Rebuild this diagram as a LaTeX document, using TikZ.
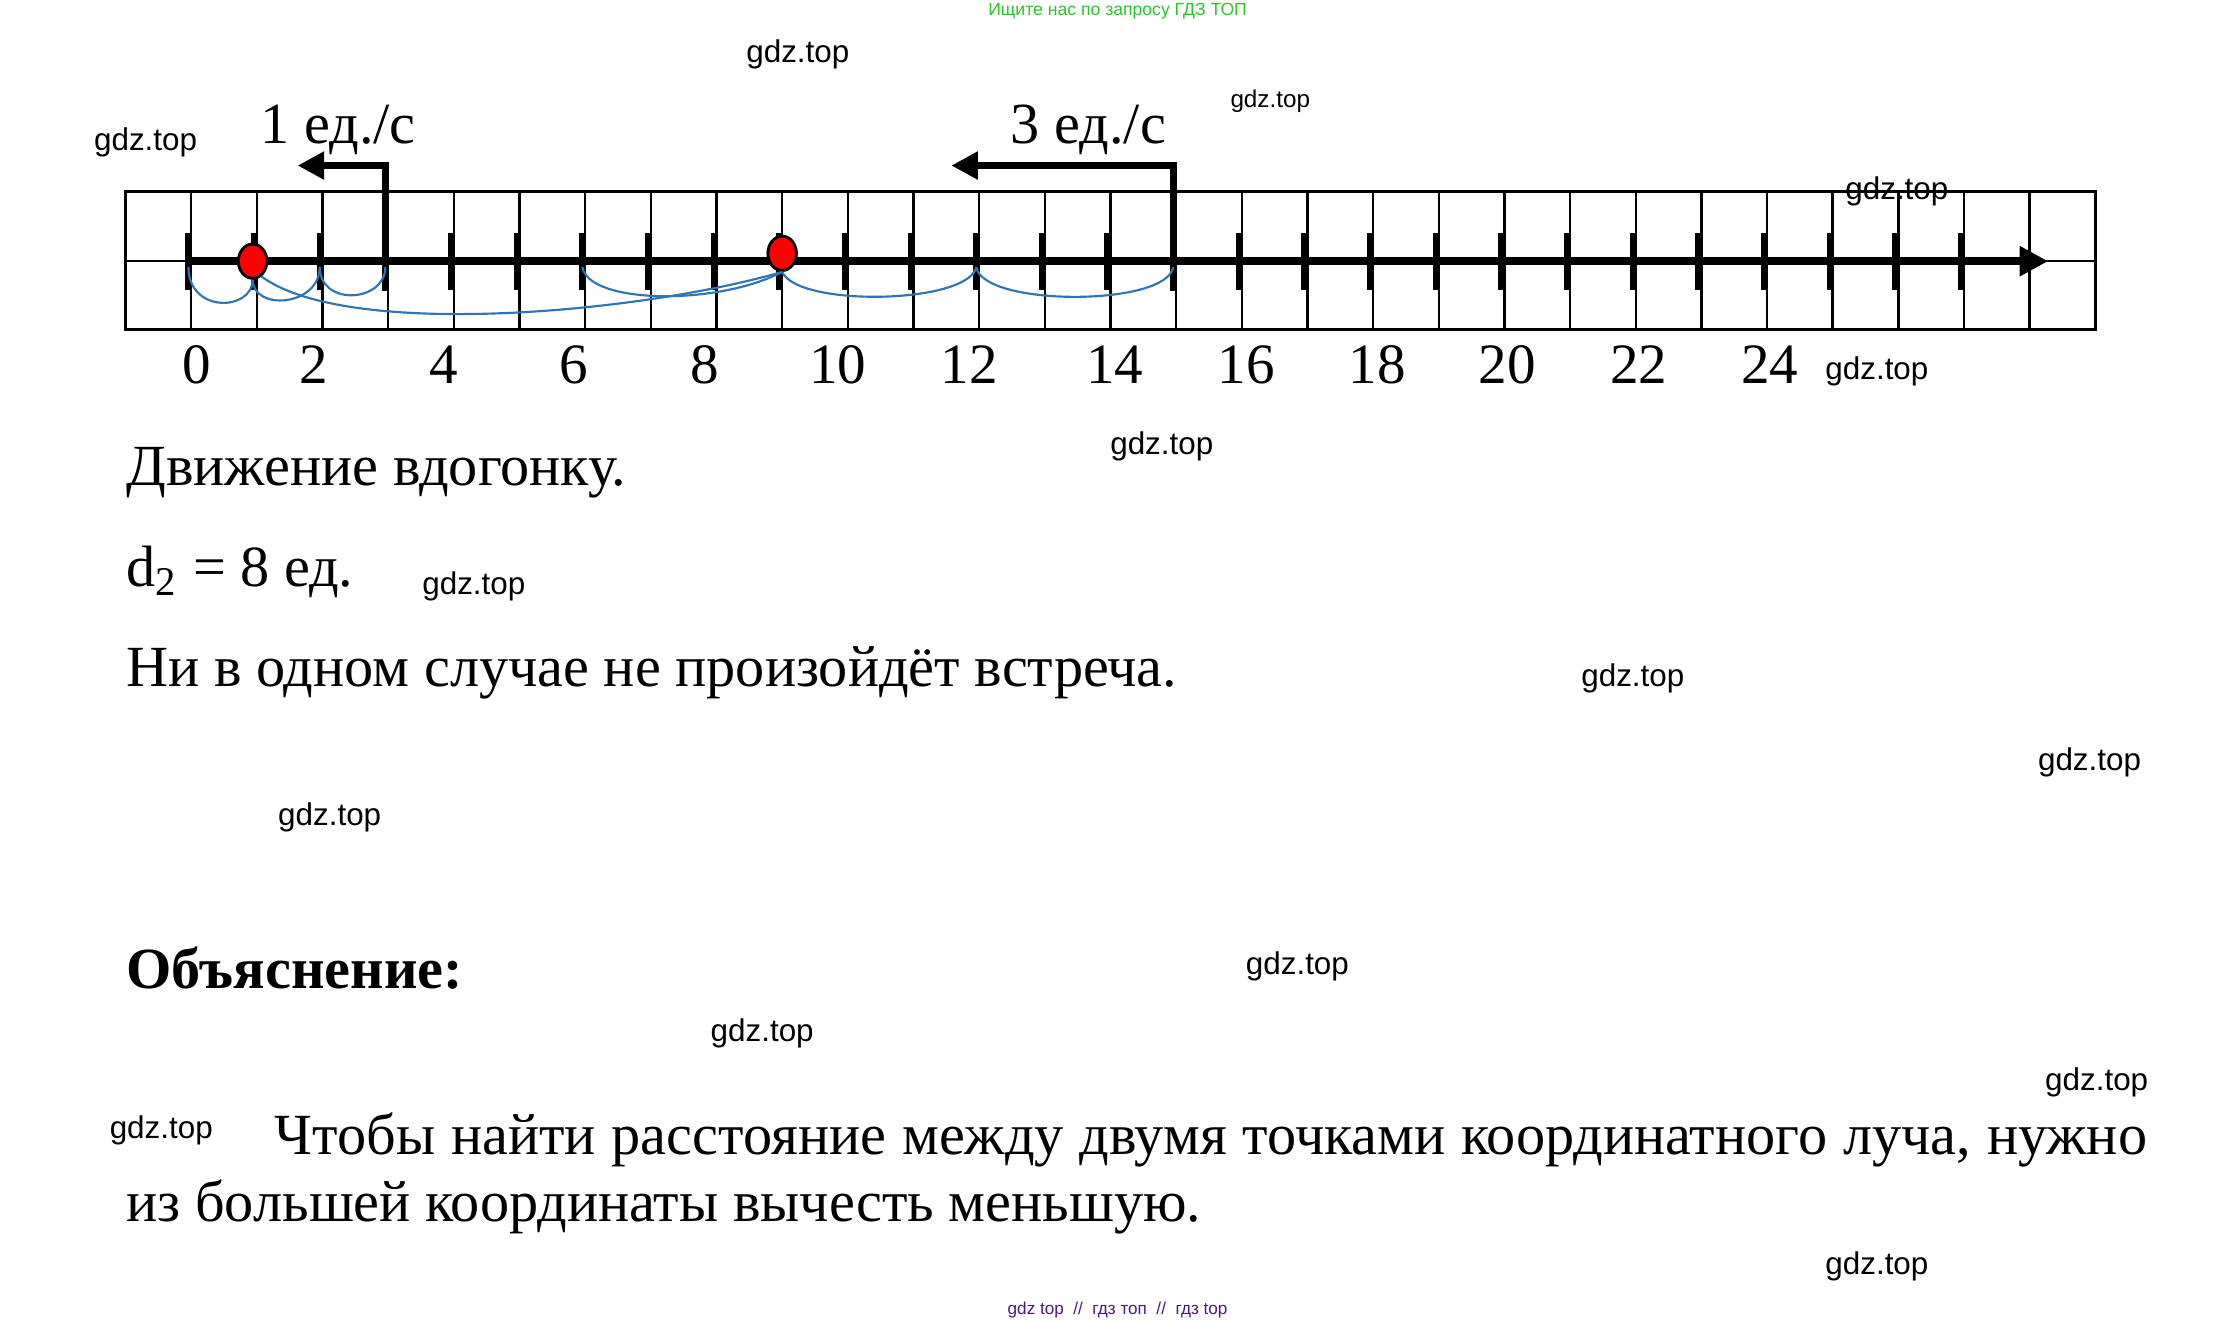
\documentclass[tikz,border=0pt]{standalone}
\usepackage{fontspec}
\setmainfont{Liberation Serif}
\newfontfamily\wmfont{Liberation Sans}
\usetikzlibrary{arrows.meta,shapes.geometric}
\definecolor{jumpblue}{RGB}{46,117,182}
\definecolor{adgreen}{RGB}{40,200,40}
\definecolor{adpurple}{RGB}{75,25,120}

\begin{document}
\begin{tikzpicture}[x=0.3pt, y=-0.3pt,
    gridline/.style={line width=0.5pt},
    tick/.style={line width=1.3pt},
    jump/.style={jumpblue, line width=0.45pt},
    speed/.style={line width=1.4pt, -{Triangle[length=5.6pt, width=5.6pt]}},
    dot/.style={ellipse, draw, line width=0.6pt, fill=red, inner sep=0pt,
      minimum width=6pt, minimum height=7.2pt},
    txt/.style={anchor=base west, inner sep=0pt, font=\fontsize{12.25}{14}\selectfont},
    wm/.style={font=\wmfont\fontsize{6.6}{8}\selectfont, inner sep=0pt}]
  \useasboundingbox (0,0) rectangle (1568,928);

  % Grid
  \foreach \i in {0,...,30}
    \draw[gridline] (88+46*\i,134) -- (88+46*\i,231);
  \draw[gridline] (88,183) -- (1468,183);
  \draw[line width=0.6pt] (88,134) rectangle (1468,231);

  % Ticks
  \foreach \v in {0,...,27} {
    \draw[tick] (132+46*\v,163) -- (132+46*\v,203);
    \coordinate (b\v) at (132+46*\v,187);
  }

  % Ray
  \coordinate (o) at (131,183);
  \coordinate (e) at (1435,183);
  \draw[line width=1.75pt, -{Triangle[length=6pt, width=6pt]}] (o) -- (e);

  % Numbers
  \foreach \v/\lx in {0/138, 2/220, 4/311, 6/402, 8/494, 10/587, 12/679,
      14/781, 16/873, 18/965, 20/1056, 22/1148, 24/1240}
    \node[anchor=base, inner sep=0pt, font=\fontsize{12}{14}\selectfont] (n\v) at (\lx,269) {\v};

  % Speeds
  \coordinate (s1) at (270,204);
  \coordinate (c1) at (270,116);
  \coordinate (a1) at (208.5,116);
  \draw[speed] (s1) -- (c1) -- (a1);
  \node[txt] (v1) at (182,100.5) {1 ед./с};
  \coordinate (s2) at (822,204);
  \coordinate (c2) at (822,116);
  \coordinate (a2) at (666.5,116);
  \draw[speed] (s2) -- (c2) -- (a2);
  \node[txt] (v2) at (707.5,100.5) {3 ед./с};

  % Points
  \node[dot] (p1) at (177,183) {};
  \node[dot] (p9) at (548,177.5) {};

  % Jumps
  \draw[jump] (b0) .. controls +(0,33) and +(0,22) .. (p1.south);
  \draw[jump] (p1.south) .. controls +(0,22) and +(0,28) .. (b2);
  \draw[jump] (b2) .. controls +(0,28) and +(0,25) .. (b3);
  \draw[jump] (p1.-60) .. controls +(60,44) and +(-100,29) .. (p9.south);
  \draw[jump] (b6) .. controls +(4,26) and +(-46,24) .. (p9.south);
  \draw[jump] (p9.south) .. controls +(11,25) and +(-5,26) .. (b12);
  \draw[jump] (b12) .. controls +(4,28) and +(-4,28) .. (b15);

  % Text
  \node[txt] (t1) at (88,340) {Движение вдогонку.};
  \node[txt] (t2) at (88,411) {d\textsubscript{2} = 8 ед.};
  \node[txt] (t3) at (88,481) {Ни в одном случае не произойдёт встреча.};
  \node[txt, font=\bfseries\fontsize{12.25}{14}\selectfont] (t4) at (88,692.5) {Объяснение:};
  \node[txt] (t5) at (192,809)
    {\makebox[393.5pt][s]{Чтобы найти расстояние между двумя точками координатного луча, нужно}};
  \node[txt] (t6) at (88,856) {из большей координаты вычесть меньшую.};

  % Watermarks
  \foreach \wx/\wy [count=\k] in {559/38, 102/100, 1329/134, 1315/260, 814/313,
      332/411, 1144/475, 1464/534, 231/573, 909/677, 534/724, 1469/758,
      113/792, 1315/887}
    \node[wm] (wm\k) at (\wx,\wy) {gdz.top};
  \node[wm, font=\wmfont\fontsize{5.1}{6}\selectfont] (wm0) at (890,71) {gdz.top};
  \node[inner sep=0pt, text=adgreen, font=\wmfont\fontsize{3.7}{4}\selectfont] (ad) at (783,8)
    {Ищите нас по запросу ГДЗ ТОП};
  \node[inner sep=0pt, text=adpurple, font=\wmfont\fontsize{3.6}{4}\selectfont] (foot) at (783,918)
    {gdz top \ // \ гдз топ \ // \ гдз top};
\end{tikzpicture}
\end{document}
